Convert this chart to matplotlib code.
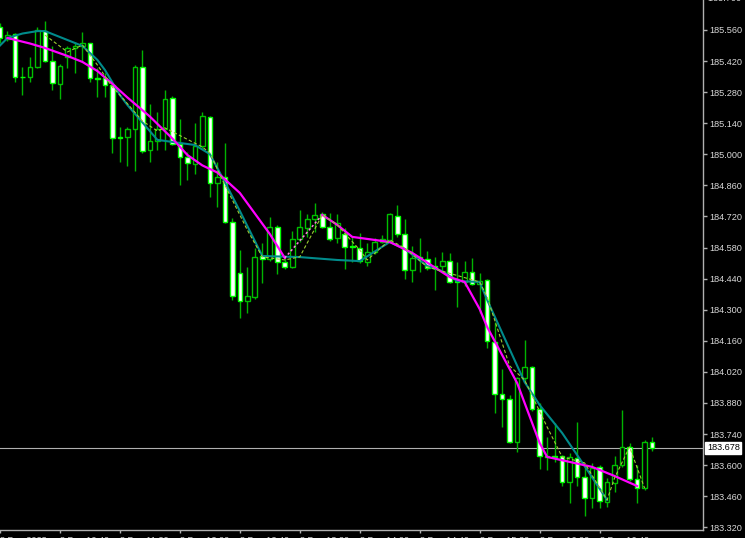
import numpy as np
import matplotlib
matplotlib.use('Agg')
import matplotlib.pyplot as plt

# OHLC per bar (one bar = one candle, left to right)
opens = [185.575, 185.519, 185.542, 185.350, 185.347, 185.395, 185.557, 185.420, 185.317, 185.440,
         185.478, 185.488, 185.500, 185.342, 185.345, 185.312, 185.077, 185.077, 185.113, 185.392,
         185.019, 185.061, 185.114, 185.252, 185.045, 184.989, 184.955, 185.039, 185.170, 184.872,
         184.896, 184.694, 184.464, 184.339, 184.356, 184.543, 184.528, 184.674, 184.516, 184.494,
         184.617, 184.669, 184.707, 184.730, 184.674, 184.622, 184.640, 184.587, 184.579, 184.516,
         184.561, 184.606, 184.614, 184.722, 184.640, 184.479, 184.537, 184.528, 184.497, 184.497,
         184.521, 184.430, 184.426, 184.469, 184.416, 184.434, 184.156, 183.920, 183.896, 183.703,
         183.991, 184.041, 183.853, 183.642, 183.640, 183.641, 183.525, 183.633, 183.545, 183.451,
         183.593, 183.435, 183.520, 183.600, 183.683, 183.536, 183.496, 183.705]
highs = [185.590, 185.555, 185.546, 185.392, 185.437, 185.575, 185.602, 185.489, 185.405, 185.489,
         185.507, 185.550, 185.503, 185.387, 185.365, 185.320, 185.122, 185.124, 185.402, 185.470,
         185.227, 185.189, 185.290, 185.264, 185.158, 185.012, 185.142, 185.189, 185.172, 184.967,
         185.052, 184.712, 184.569, 184.491, 184.579, 184.602, 184.719, 184.680, 184.534, 184.655,
         184.749, 184.731, 184.782, 184.740, 184.734, 184.731, 184.669, 184.629, 184.647, 184.602,
         184.624, 184.637, 184.734, 184.772, 184.707, 184.587, 184.622, 184.564, 184.539, 184.560,
         184.554, 184.516, 184.519, 184.532, 184.467, 184.440, 184.246, 184.032, 183.916, 183.998,
         184.164, 184.045, 183.878, 183.728, 183.788, 183.645, 183.656, 183.796, 183.593, 183.611,
         183.600, 183.543, 183.641, 183.848, 183.698, 183.600, 183.713, 183.728]
lows = [185.500, 185.510, 185.327, 185.267, 185.324, 185.387, 185.415, 185.290, 185.249, 185.387,
        185.365, 185.420, 185.327, 185.260, 185.260, 185.005, 184.967, 184.947, 184.926, 185.005,
        184.967, 185.019, 185.020, 185.040, 184.862, 184.884, 184.911, 185.030, 184.809, 184.764,
        184.690, 184.344, 184.261, 184.284, 184.350, 184.422, 184.520, 184.461, 184.482, 184.490,
        184.606, 184.629, 184.651, 184.670, 184.610, 184.600, 184.482, 184.516, 184.510, 184.497,
        184.550, 184.600, 184.605, 184.629, 184.437, 184.426, 184.471, 184.480, 184.389, 184.480,
        184.420, 184.311, 184.407, 184.410, 184.284, 184.126, 183.833, 183.770, 183.700, 183.660,
        183.980, 183.845, 183.581, 183.578, 183.615, 183.506, 183.431, 183.506, 183.371, 183.405,
        183.405, 183.413, 183.480, 183.590, 183.530, 183.428, 183.490, 183.665]
closes = [185.525, 185.537, 185.347, 185.347, 185.395, 185.560, 185.420, 185.320, 185.399, 185.478,
          185.488, 185.500, 185.342, 185.340, 185.312, 185.075, 185.074, 185.113, 185.392, 185.014,
          185.061, 185.114, 185.248, 185.045, 184.989, 184.960, 185.039, 185.174, 184.872, 184.896,
          184.694, 184.363, 184.339, 184.362, 184.539, 184.528, 184.674, 184.516, 184.494, 184.617,
          184.671, 184.707, 184.727, 184.674, 184.617, 184.692, 184.584, 184.582, 184.519, 184.561,
          184.606, 184.617, 184.731, 184.640, 184.479, 184.532, 184.532, 184.489, 184.487, 184.521,
          184.426, 184.426, 184.469, 184.416, 184.431, 184.160, 183.920, 183.896, 183.703, 183.991,
          184.041, 183.853, 183.642, 183.635, 183.636, 183.525, 183.635, 183.545, 183.451, 183.588,
          183.440, 183.525, 183.600, 183.683, 183.536, 183.496, 183.705, 183.678]

# indicator lines (bar index, price)
ma_idx = [1, 4, 6, 9, 11, 13, 15, 17, 20, 23, 25, 27, 29, 32, 36, 38, 43, 45, 47, 52, 55, 60, 62, 64, 65, 69, 72, 73, 79, 82, 85]
ma_val = [185.524, 185.499, 185.479, 185.443, 185.416, 185.375, 185.317, 185.256, 185.170, 185.071,
          184.997, 184.950, 184.918, 184.826, 184.641, 184.533, 184.727, 184.682, 184.628, 184.605,
          184.556, 184.447, 184.425, 184.303, 184.222, 183.970, 183.700, 183.637, 183.592, 183.551, 183.506]
teal_idx = [0, 1, 3, 5, 6, 11, 13, 14, 16, 17, 21, 24, 26, 28, 30, 32, 35, 40, 45, 48, 52, 54, 57, 59, 61, 64, 65, 70, 72, 75, 78, 81]
teal_val = [185.490, 185.524, 185.544, 185.555, 185.555, 185.488, 185.425, 185.380, 185.267, 185.222,
            185.065, 185.051, 185.042, 185.001, 184.875, 184.745, 184.542, 184.537, 184.524, 184.519,
            184.605, 184.574, 184.497, 184.474, 184.429, 184.425, 184.344, 183.974, 183.871, 183.745,
            183.596, 183.443]
zz_idx = [6, 9, 11, 13, 15, 16, 19, 21, 22, 27, 28, 30, 33, 35, 38, 40, 43, 45, 48, 49, 52, 54, 57, 64, 65, 68, 70, 73, 75, 78, 81, 82, 84, 86]
zz_val = [185.537, 185.461, 185.492, 185.402, 185.303, 185.267, 185.150, 185.105, 185.119, 185.033,
          185.006, 184.862, 184.659, 184.538, 184.524, 184.538, 184.727, 184.682, 184.569, 184.524,
          184.614, 184.578, 184.493, 184.425, 184.357, 184.047, 183.983, 183.772, 183.637, 183.610,
          183.443, 183.542, 183.682, 183.497]

bid = 183.678
price_ticks = np.round(np.arange(183.32, 185.70, 0.14), 3)
time_ticks = [0, 8, 16, 24, 32, 40, 48, 56, 64, 72, 80]
time_labels = ['8 Dec 2023', '8 Dec 10:40', '8 Dec 11:20', '8 Dec 12:00', '8 Dec 12:40', '8 Dec 13:20',
               '8 Dec 14:00', '8 Dec 14:40', '8 Dec 15:20', '8 Dec 16:00', '8 Dec 16:40']

o = np.array(opens); h = np.array(highs); l = np.array(lows); c = np.array(closes)
idx = np.arange(len(o))
bear = c < o

fig = plt.figure(figsize=(7.45, 5.38), dpi=100, facecolor='black')
ax = fig.add_axes([0, 8.5 / 538, 703 / 745, 529.5 / 538])
ax.set_facecolor('black')

ax.vlines(idx, l, h, color='#00b400', lw=1, zorder=2)
bottoms = np.minimum(o, c)
heights = np.maximum(np.abs(c - o), 0.0008)
ax.bar(idx, heights, 0.62, bottom=bottoms, color=np.where(bear, 'white', 'black'),
       edgecolor=np.where(bear, '#00ff00', '#00c000'), linewidth=1, zorder=3)

ax.plot(teal_idx, teal_val, color='#008b8b', lw=1.5, zorder=4)
k1 = ma_idx.index(38); k2 = ma_idx.index(43)
ax.plot(ma_idx[:k1 + 1], ma_val[:k1 + 1], color='#ff00ff', lw=1.6, zorder=5)
ax.plot(ma_idx[k1:k2 + 1], ma_val[k1:k2 + 1], color='#ff80e0', lw=1.1, ls=(0, (1.5, 1.5)), zorder=5)
ax.plot(ma_idx[k2:], ma_val[k2:], color='#ff00ff', lw=1.6, zorder=5)
ax.plot(zz_idx, zz_val, color='#9acd32', lw=0.8, ls=(0, (3, 2)), zorder=6)

ax.axhline(bid, color='#b0b0b0', lw=0.8, zorder=1)

ax.set_xlim(0.067, 93.8)
ax.set_ylim(183.310, 185.695)

for s in ['top', 'left']:
    ax.spines[s].set_visible(False)
for s in ['right', 'bottom']:
    ax.spines[s].set_color('#b0b0b0')
    ax.spines[s].set_linewidth(1)

ax.yaxis.tick_right()
ax.set_yticks(price_ticks)
ax.set_yticklabels(['%.3f' % p for p in price_ticks])
ax.tick_params(axis='y', colors='#b0b0b0', labelcolor='#d8d8d8', length=3, width=1, pad=1.5,
               labelsize=6.6, labelfontfamily='Liberation Sans')
ax.set_xticks(time_ticks)
ax.set_xticklabels(time_labels, ha='left')
ax.tick_params(axis='x', colors='#b0b0b0', labelcolor='#d8d8d8', length=2.5, width=1, pad=2.0,
               labelsize=6.6, labelfontfamily='Liberation Sans')

tr = ax.get_yaxis_transform()
ax.text(1.0, 185.70, '  185.700', transform=tr, va='center', ha='left', color='#d8d8d8',
        fontsize=6.6, family='Liberation Sans', clip_on=False)
ax.text(1.0055, bid, '183.678', transform=tr, va='center', ha='left', color='black',
        fontsize=6.6, family='Liberation Sans', clip_on=False, zorder=10,
        bbox=dict(facecolor='white', edgecolor='white', pad=1.2))

fig.savefig('out.png', dpi=100, facecolor='black')
